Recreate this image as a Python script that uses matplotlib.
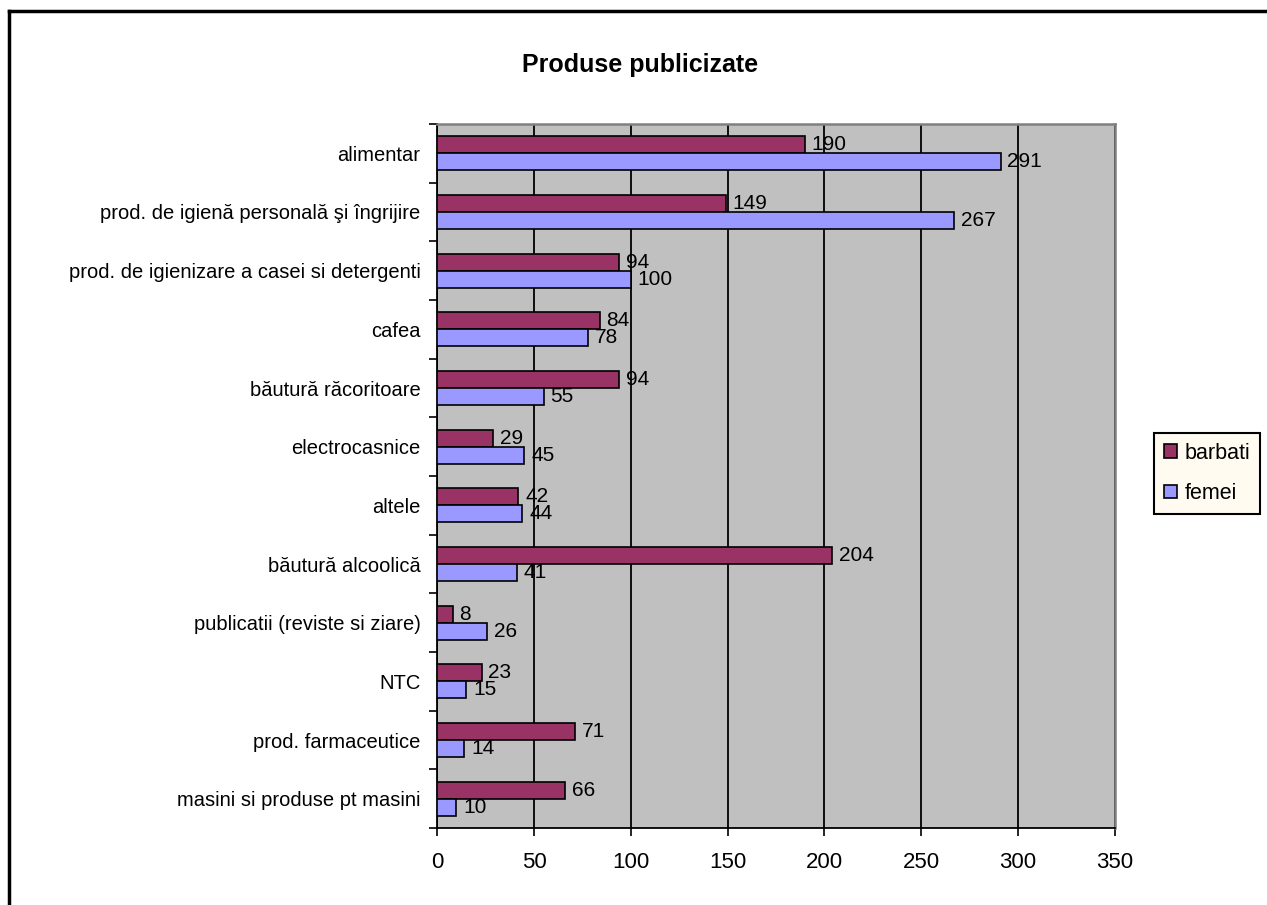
import matplotlib.pyplot as plt
import numpy as np
from matplotlib.lines import Line2D

plt.rcParams['font.family'] = ['Liberation Sans', 'DejaVu Sans']

# Product categories, listed top to bottom
categories = [
    'alimentar',
    'prod. de igienă personală şi îngrijire',
    'prod. de igienizare a casei si detergenti',
    'cafea',
    'băutură răcoritoare',
    'electrocasnice',
    'altele',
    'băutură alcoolică',
    'publicatii (reviste si ziare)',
    'NTC',
    'prod. farmaceutice',
    'masini si produse pt masini',
]
barbati = [190, 149, 94, 84, 94, 29, 42, 204, 8, 23, 71, 66]
femei = [291, 267, 100, 78, 55, 45, 44, 41, 26, 15, 14, 10]
xticks = [0, 50, 100, 150, 200, 250, 300, 350]

fig = plt.figure(figsize=(12.67, 9.05), dpi=100)
ax = fig.add_axes([0.345, 0.085, 0.535, 0.778])

n = len(categories)
y = np.arange(n)[::-1]  # first category at the top
h = 0.29

ax.barh(y + h / 2, barbati, height=h, color='#993366', edgecolor='black',
        linewidth=1.2, label='barbati', zorder=3)
ax.barh(y - h / 2, femei, height=h, color='#9999FF', edgecolor='black',
        linewidth=1.2, label='femei', zorder=3)

for yi, vb, vf in zip(y, barbati, femei):
    ax.text(vb + 3.5, yi + h / 2, str(vb), va='center', ha='left', fontsize=15, zorder=4)
    ax.text(vf + 3.5, yi - h / 2, str(vf), va='center', ha='left', fontsize=15, zorder=4)

ax.set_facecolor('#C0C0C0')
ax.set_xlim(0, 350)
ax.set_ylim(-0.5, n - 0.5)
ax.set_xticks(xticks)
ax.set_xticklabels([str(t) for t in xticks], fontsize=16)
ax.xaxis.grid(True, color='black', linewidth=1.3, zorder=1)
ax.set_axisbelow(True)

ax.set_yticks(y)
ax.set_yticklabels(categories, fontsize=14.5)
ax.set_yticks(np.arange(-0.5, n, 1), minor=True)
ax.tick_params(axis='y', which='major', length=0, pad=12)
ax.tick_params(axis='y', which='minor', length=6, width=1.2, direction='out')
ax.tick_params(axis='x', length=6, width=1.2, direction='out', pad=11)

for side in ('top', 'right'):
    ax.spines[side].set_color('#808080')
    ax.spines[side].set_linewidth(1.8)
for side in ('left', 'bottom'):
    ax.spines[side].set_color('black')
    ax.spines[side].set_linewidth(1.3)

fig.text(0.505, 0.928, 'Produse publicizate', ha='center', va='center',
         fontsize=18, fontweight='bold')

leg = fig.legend(loc='center left', bbox_to_anchor=(0.911, 0.477), fontsize=15.5,
                 frameon=True, fancybox=False, edgecolor='black', facecolor='#FFFBF0',
                 framealpha=1, handlelength=0.6, handleheight=0.6, borderpad=0.45,
                 labelspacing=0.9, handletextpad=0.35, borderaxespad=0)
leg.get_frame().set_linewidth(1.5)

# outer frame: left and top edges
fig.add_artist(Line2D([9 / 1267, 9 / 1267], [0, 1 - 11 / 905], color='black',
                      linewidth=2.5, transform=fig.transFigure))
fig.add_artist(Line2D([9 / 1267, 1], [1 - 11 / 905, 1 - 11 / 905], color='black',
                      linewidth=2.5, transform=fig.transFigure))

fig.savefig('out.png', dpi=100)
